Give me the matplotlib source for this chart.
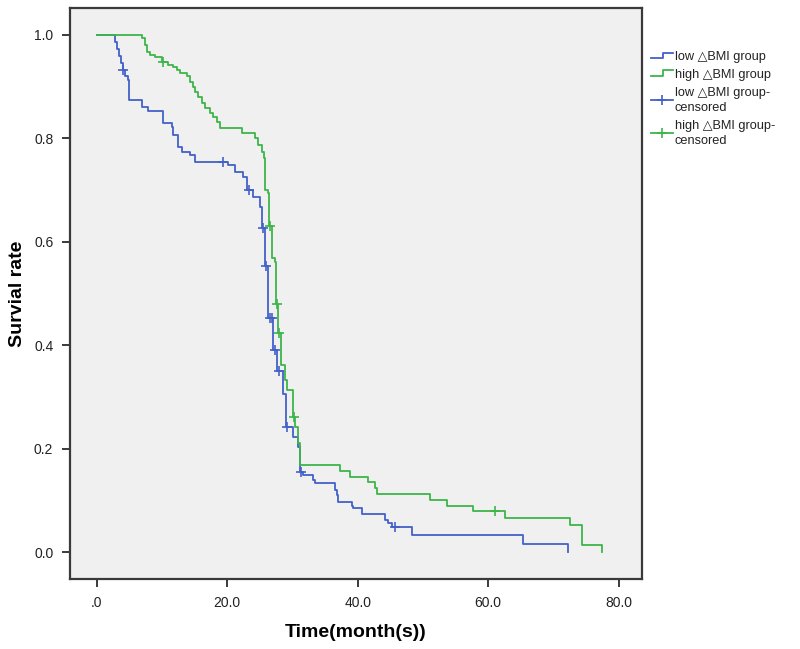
import numpy as np
import matplotlib
matplotlib.use("Agg")
import matplotlib.pyplot as plt
from matplotlib.lines import Line2D
from matplotlib.legend_handler import HandlerLine2D

plt.rcParams['font.family'] = ['Liberation Sans', 'DejaVu Sans']

# ---- data ----
low_t = [0, 2.8, 3.1, 3.4, 3.7, 3.95, 4.4, 4.8, 5.0, 6.9, 7.8, 10.1, 11.5, 11.7, 12.4, 13.0,
         14.3, 15.0, 20.1, 21.2, 22.4, 23.1, 23.9, 25.0, 25.4, 25.8, 26.2, 27.0, 27.7, 28.5,
         29.0, 30.1, 30.8, 31.1, 31.6, 33.1, 33.4, 36.5, 36.8, 37.0, 39.1, 39.3, 40.6, 44.2,
         44.7, 45.3, 48.3, 65.3, 72.2]
low_s = [1.0, 0.986, 0.972, 0.959, 0.945, 0.932, 0.920, 0.913, 0.874, 0.861, 0.853, 0.830,
         0.822, 0.807, 0.783, 0.774, 0.768, 0.754, 0.749, 0.735, 0.725, 0.700, 0.687, 0.667,
         0.627, 0.553, 0.453, 0.391, 0.350, 0.305, 0.242, 0.222, 0.203, 0.155, 0.149, 0.139,
         0.133, 0.120, 0.110, 0.097, 0.089, 0.085, 0.073, 0.062, 0.056, 0.048, 0.033, 0.016, 0.0]
low_cens = [4.0, 19.3, 23.3, 25.5, 25.9, 26.6, 26.9, 27.3, 27.9, 29.2, 31.3, 45.7]

high_t = [0, 6.9, 7.36, 7.67, 8.13, 8.9, 9.97, 10.9, 11.7, 12.3, 12.7, 13.8, 14.3, 14.7, 15.0,
          15.5, 16.1, 16.6, 17.3, 17.8, 18.4, 18.9, 22.2, 24.2, 24.7, 25.3, 25.6, 25.8, 26.2,
          26.4, 26.8, 27.3, 27.5, 27.8, 28.2, 28.8, 29.1, 30.1, 30.4, 30.8, 31.1, 37.3, 38.8,
          41.6, 42.6, 42.9, 51.1, 53.7, 57.7, 62.6, 72.5, 74.4, 77.5]
high_s = [1.0, 0.994, 0.981, 0.967, 0.961, 0.957, 0.948, 0.942, 0.938, 0.932, 0.926, 0.920,
          0.909, 0.899, 0.890, 0.880, 0.868, 0.859, 0.849, 0.841, 0.832, 0.820, 0.810, 0.801,
          0.787, 0.774, 0.762, 0.700, 0.694, 0.631, 0.569, 0.561, 0.480, 0.424, 0.362, 0.333,
          0.313, 0.261, 0.242, 0.211, 0.168, 0.157, 0.145, 0.135, 0.124, 0.112, 0.101, 0.089,
          0.079, 0.066, 0.052, 0.0135, 0.0]
high_cens = [10.1, 26.5, 27.6, 27.9, 30.2, 61.0]

x_ticks = [0, 20, 40, 60, 80]
x_ticklabels = ['.0', '20.0', '40.0', '60.0', '80.0']
y_ticks = [0.0, 0.2, 0.4, 0.6, 0.8, 1.0]
y_ticklabels = ['0.0', '0.2', '0.4', '0.6', '0.8', '1.0']

labels = ['low \u25b3BMI group', 'high \u25b3BMI group',
          'low \u25b3BMI group-\ncensored', 'high \u25b3BMI group-\ncensored']

BLUE = '#4460c8'
GREEN = '#3db54a'
EDGE = '#3a3a3a'
MS = 7.5


def surv_at(ts, ss, t):
    idx = np.searchsorted(np.asarray(ts), t, side='right') - 1
    return np.asarray(ss)[idx]


fig = plt.figure(figsize=(8.0, 6.49), dpi=100)
ax = fig.add_axes([70 / 800, 1 - 579 / 649, (642 - 70) / 800, (579 - 8) / 649])
ax.set_facecolor('#f0f0f0')

l1, = ax.plot(low_t, low_s, drawstyle='steps-post', color=BLUE, lw=1.3)
l2, = ax.plot(high_t, high_s, drawstyle='steps-post', color=GREEN, lw=1.3)
c1, = ax.plot(low_cens, surv_at(low_t, low_s, low_cens), ls='none', marker='+',
              ms=MS, mew=1.2, color=BLUE)
c2, = ax.plot(high_cens, surv_at(high_t, high_s, high_cens), ls='none', marker='+',
              ms=MS, mew=1.2, color=GREEN)

ax.set_xlim(-4.1, 83.6)
ax.set_ylim(-0.052, 1.052)
ax.set_xticks(x_ticks)
ax.set_xticklabels(x_ticklabels)
ax.set_yticks(y_ticks)
ax.set_yticklabels(y_ticklabels)
ax.tick_params(direction='out', length=6, width=1.4, color=EDGE, labelsize=10,
               labelcolor='#222222', pad=6)
for sp in ax.spines.values():
    sp.set_color(EDGE)
    sp.set_linewidth(1.6)

ax.set_xlabel('Time(month(s))', fontsize=14, fontweight='bold', labelpad=10)
ax.set_ylabel('Survial rate', fontsize=14, fontweight='bold', labelpad=6)


class StepHandler(HandlerLine2D):
    def create_artists(self, legend, orig_handle, xdescent, ydescent, width, height,
                       fontsize, trans):
        x0 = -xdescent
        xm = x0 + width * 0.55
        y0 = -ydescent + height * 0.2
        y1 = -ydescent + height * 0.85
        ln = Line2D([x0, xm, xm, x0 + width], [y0, y0, y1, y1],
                    color=orig_handle.get_color(), lw=1.3)
        ln.set_transform(trans)
        return [ln]


class CensHandler(HandlerLine2D):
    def create_artists(self, legend, orig_handle, xdescent, ydescent, width, height,
                       fontsize, trans):
        x0 = -xdescent
        yc = -ydescent + height * 0.5
        ln = Line2D([x0, x0 + width], [yc, yc], color=orig_handle.get_color(), lw=1.3)
        mk = Line2D([x0 + width * 0.5], [yc], ls='none', marker='+', ms=MS, mew=1.2,
                    color=orig_handle.get_color())
        ln.set_transform(trans)
        mk.set_transform(trans)
        return [ln, mk]


fig.legend([l1, l2, c1, c2], labels, loc='upper left',
           bbox_to_anchor=(646 / 800, 1 - 46 / 649), frameon=False,
           handlelength=1.7, handletextpad=0.15, labelspacing=0.45, borderaxespad=0,
           prop={'size': 9.2},
           handler_map={l1: StepHandler(), l2: StepHandler(),
                        c1: CensHandler(), c2: CensHandler()})
leg = fig.legends[0]
for txt in leg.get_texts():
    txt.set_color('#222222')
    txt.set_linespacing(1.35)

fig.savefig('out.png', dpi=100, facecolor='white')
